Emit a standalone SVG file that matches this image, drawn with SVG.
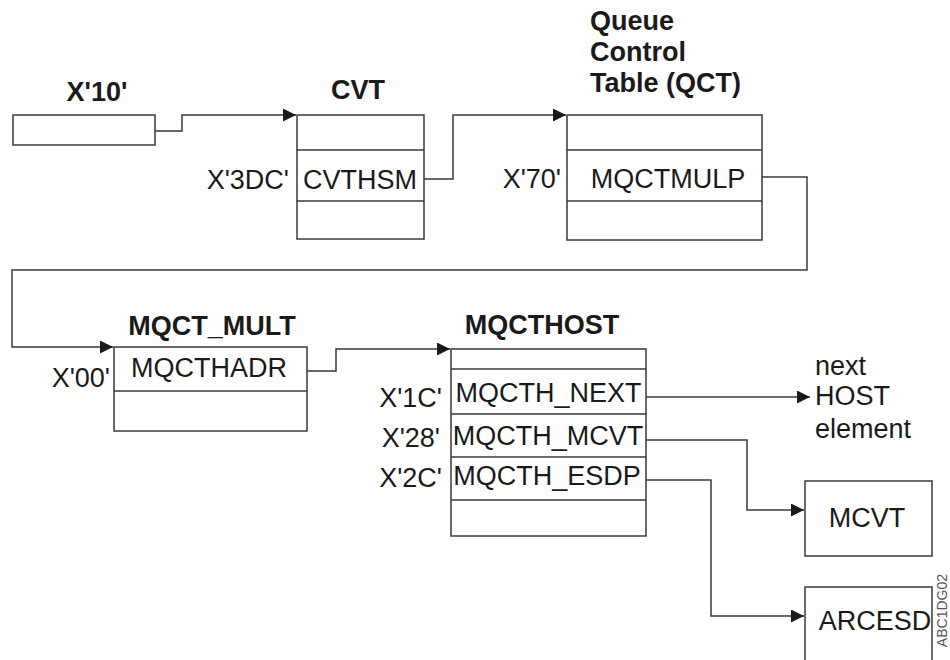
<svg xmlns="http://www.w3.org/2000/svg" width="950" height="660" viewBox="0 0 950 660">
<defs>
<style>
.box{fill:#fff;stroke:#3a3a3a;stroke-width:1.5}
.div{stroke:#3a3a3a;stroke-width:1.3}
.con{fill:none;stroke:#3a3a3a;stroke-width:1.5}
text{font-family:"Liberation Sans",Arial,sans-serif;font-size:27px;fill:#1a1a1a}
.b{font-weight:bold}
.m{text-anchor:middle}
.e{text-anchor:end}
</style>
<marker id="arr" markerUnits="userSpaceOnUse" markerWidth="14" markerHeight="14" refX="13" refY="6.5" orient="auto">
<path d="M0,0 L13,6.5 L0,13 z" fill="#1a1a1a"/>
</marker>
</defs>
<rect width="950" height="660" fill="#fff"/>
<g id="connectors">
<path class="con" d="M155,131 H182 V115 H296" marker-end="url(#arr)"/>
<path class="con" d="M424,179 H453 V115 H566" marker-end="url(#arr)"/>
<path class="con" d="M762,177 H807 V270 H12 V347 H113" marker-end="url(#arr)"/>
<path class="con" d="M307,371 H336 V349 H450" marker-end="url(#arr)"/>
<path class="con" d="M646,397 H810" marker-end="url(#arr)"/>
<path class="con" d="M646,440 H747 V510 H804" marker-end="url(#arr)"/>
<path class="con" d="M646,480 H711 V616 H804" marker-end="url(#arr)"/>
</g>
<g id="x10">
<text class="b m" x="97" y="101">X'10'</text>
<rect class="box" x="13" y="115" width="142" height="30"/>
</g>
<g id="cvt">
<text class="b m" x="358" y="99">CVT</text>
<rect class="box" x="297" y="115" width="127" height="124"/>
<line class="div" x1="297" y1="150" x2="424" y2="150"/>
<line class="div" x1="297" y1="201" x2="424" y2="201"/>
<text class="e" x="289" y="189">X'3DC'</text>
<text class="m" x="360" y="189">CVTHSM</text>
</g>
<g id="qct">
<text class="b" x="590" y="29.5">Queue</text>
<text class="b" x="590" y="61">Control</text>
<text class="b" x="590" y="92">Table (QCT)</text>
<rect class="box" x="567" y="115" width="195" height="125"/>
<line class="div" x1="567" y1="150" x2="762" y2="150"/>
<line class="div" x1="567" y1="201" x2="762" y2="201"/>
<text class="e" x="561" y="188">X'70'</text>
<text class="m" x="668" y="188">MQCTMULP</text>
</g>
<g id="mqct_mult">
<text class="b m" x="212" y="335">MQCT_MULT</text>
<rect class="box" x="114" y="347" width="193" height="84"/>
<line class="div" x1="114" y1="391" x2="307" y2="391"/>
<text class="e" x="110" y="387">X'00'</text>
<text class="m" x="209" y="377">MQCTHADR</text>
</g>
<g id="mqcthost">
<text class="b m" x="542" y="334">MQCTHOST</text>
<rect class="box" x="451" y="349" width="195" height="187"/>
<line class="div" x1="451" y1="369" x2="646" y2="369"/>
<line class="div" x1="451" y1="414" x2="646" y2="414"/>
<line class="div" x1="451" y1="457" x2="646" y2="457"/>
<line class="div" x1="451" y1="500" x2="646" y2="500"/>
<text class="m" x="548.5" y="402">MQCTH_NEXT</text>
<text class="m" x="548" y="444.5">MQCTH_MCVT</text>
<text class="m" x="547" y="484.5">MQCTH_ESDP</text>
<text class="e" x="442" y="407">X'1C'</text>
<text class="e" x="440" y="447">X'28'</text>
<text class="e" x="442" y="487">X'2C'</text>
</g>
<g id="next_host">
<text x="815" y="375">next</text>
<text x="815" y="405">HOST</text>
<text x="815" y="438">element</text>
</g>
<g id="mcvt">
<rect class="box" x="805" y="481" width="127" height="75"/>
<text class="m" x="867" y="527">MCVT</text>
</g>
<g id="arcesd">
<rect class="box" x="805" y="587" width="127" height="100"/>
<text class="m" x="875" y="630">ARCESD</text>
</g>
<text transform="translate(947,574) rotate(-90)" style="font-size:14px;fill:#555" text-anchor="end">ABC1DG02</text>
</svg>
